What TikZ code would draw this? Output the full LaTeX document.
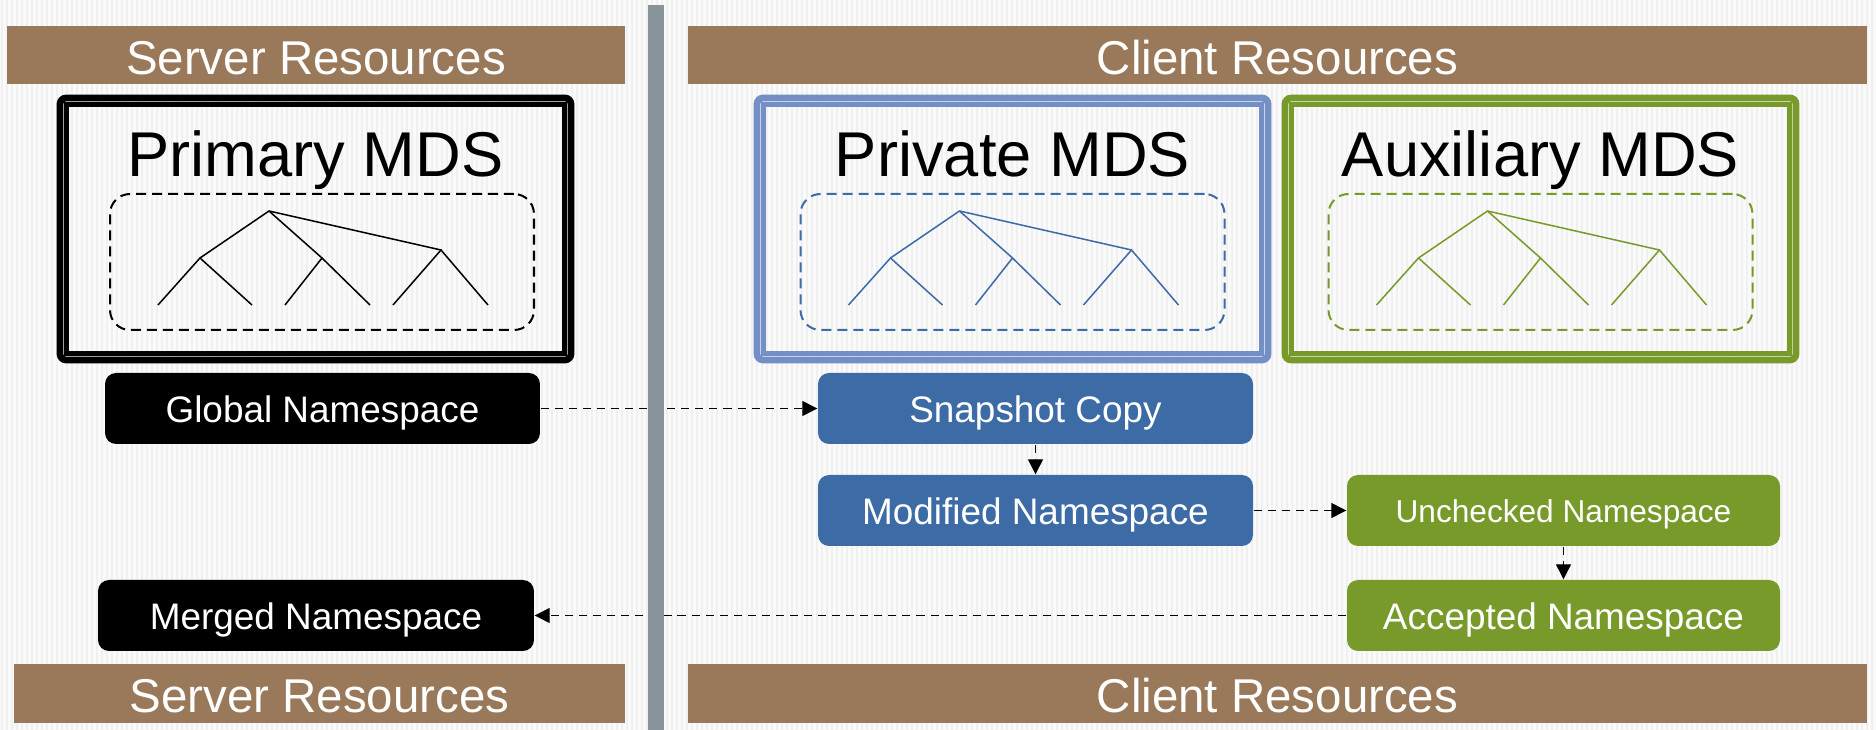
\documentclass[tikz,border=0pt]{standalone}
\usepackage{fontspec}
\setmainfont{Liberation Sans}
\usetikzlibrary{calc}
\usetikzlibrary{arrows.meta}

\definecolor{barbrown}{HTML}{99795A}
\definecolor{divgray}{HTML}{88939A}
\definecolor{privblue}{HTML}{3C6BA5}
\definecolor{privframe}{HTML}{738FC6}
\definecolor{auxgreen}{HTML}{779A2A}

\tikzset{
  stripe/.style={black!6, line width=0.55pt},
  resbar/.style={fill=barbrown, text=white, minimum height=5.85mm, inner sep=0pt,
    font=\fontsize{13.5pt}{16pt}\selectfont, text height=3.9mm, text depth=0pt},
  mdsframe/.style={line width=1.9pt, rounded corners=0.6mm, minimum width=51.1mm,
    minimum height=26.2mm, inner sep=0pt},
  mdsinner/.style={line width=1.4pt},
  mdstitle/.style={font=\fontsize{18pt}{21pt}\selectfont, inner sep=0pt},
  nsdash/.style={line width=0.57pt, dash pattern=on 2.85pt off 1.7pt, rounded corners=2mm,
    minimum width=42.4mm, minimum height=13.6mm, inner sep=0pt},
  treeline/.style={line width=0.43pt},
  nsbox/.style={rounded corners=1.1mm, minimum width=43.5mm, minimum height=7.1mm,
    inner sep=0pt, text=white, font=\fontsize{10.5pt}{12pt}\selectfont,
    text height=2.9mm, text depth=0pt},
  flow/.style={->, line width=0.37pt, dash pattern=on 2.3pt off 1.7pt},
}

\begin{document}
\begin{tikzpicture}[x=0.1mm, y=-0.1mm, >={Triangle[length=1.5mm,width=1.5mm]}]

    \useasboundingbox (0,0) rectangle (1876,730);

    % striped backdrop
    \fill[black!2] (0,0) rectangle (1876,730);
    \foreach \x in {2,7,...,1876}
        \draw[stripe] (\x,0) -- (\x,730);

    % resource bars
    \node[resbar, minimum width=61.8mm]  (srvtop) at (316,55)      {Server Resources};
    \node[resbar, minimum width=117.9mm] (clitop) at (1277.5,55)   {Client Resources};
    \node[resbar, minimum width=61.1mm]  (srvbot) at (319.5,693.5) {Server Resources};
    \node[resbar, minimum width=117.9mm] (clibot) at (1277.5,693.5) {Client Resources};

    % the three MDS frames with their namespace trees
    \foreach \mds/\frm/\col/\title/\cx/\dx in {prim/black/black/Primary MDS/315.5/6.5,
                                             priv/privframe/privblue/Private MDS/1012.5/0,
                                             aux/auxgreen/auxgreen/Auxiliary MDS/1540.5/0} {
        \node[mdsframe, draw=\frm] (\mds) at (\cx,229) {};
        \draw[mdsinner, draw=\frm] ($(\mds.north west)+(10,10)$) rectangle ($(\mds.south east)-(10,10)$);
        \node[mdstitle, anchor=base] (\mds-title) at (\cx,177) {\title};
        \node[nsdash, draw=\col] (\mds-ns) at (\cx+\dx,262) {};

        \begin{scope}[shift={(\mds-ns.center)}, treeline, draw=\col]
            \coordinate (\mds-root) at (-53,-51);
            \coordinate (\mds-l) at (-122,-4);
            \coordinate (\mds-m) at (0,-4);
            \coordinate (\mds-r) at (119,-12);
            \draw (\mds-l) -- (\mds-root) -- (\mds-r);
            \draw (\mds-root) -- (\mds-m);
            \draw (-164,43) -- (\mds-l) -- (-70,43);
            \draw (-37,43) -- (\mds-m) -- (48,43);
            \draw (71,43) -- (\mds-r) -- (166,43);
        \end{scope}
    }

    % namespace boxes
    \node[nsbox, fill=black]    (glob) at (322.5,408.5) {Global Namespace};
    \node[nsbox, fill=black, minimum width=43.6mm] (merg) at (316,615.5) {Merged Namespace};
    \node[nsbox, fill=privblue] (snap) at (1035.5,408.5) {Snapshot Copy};
    \node[nsbox, fill=privblue] (modi) at (1035.5,510.5) {Modified Namespace};
    \node[nsbox, fill=auxgreen, minimum width=43.3mm, font=\fontsize{9pt}{11pt}\selectfont,
          text height=2.5mm] (unch) at (1563.5,510.5) {Unchecked Namespace};
    \node[nsbox, fill=auxgreen, minimum width=43.3mm] (acce) at (1563.5,615.5) {Accepted Namespace};

    % flow of the namespace
    \draw[flow] (glob) -- (snap);
    \draw[flow] (snap) -- (modi);
    \draw[flow] (modi) -- (unch);
    \draw[flow] (unch) -- (acce);
    \draw[flow] (acce) -- (merg);

    % divider between server and client
    \fill[divgray] (648,5) rectangle (664,730);

\end{tikzpicture}
\end{document}
